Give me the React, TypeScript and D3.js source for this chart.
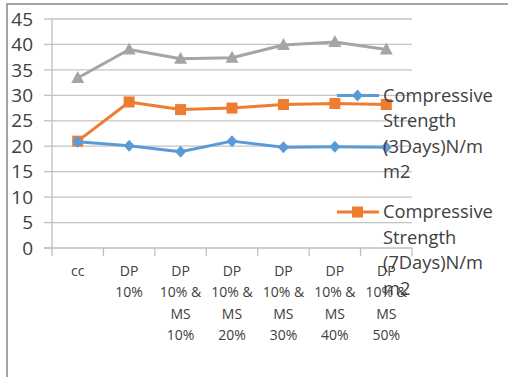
import React from "react";
import * as d3 from "d3";

const categories = ["cc", "DP 10%", "DP 10% & MS 10%", "DP 10% & MS 20%", "DP 10% & MS 30%", "DP 10% & MS 40%", "DP 10% & MS 50%"];
const strength3Days = [20.9, 20.1, 18.9, 21.0, 19.8, 19.9, 19.8];
const strength7Days = [21.0, 28.7, 27.2, 27.5, 28.2, 28.4, 28.2];
const strength28Days = [33.4, 39.0, 37.2, 37.4, 39.9, 40.5, 39.0];
const yTicks = [0, 5, 10, 15, 20, 25, 30, 35, 40, 45];
const legend1Lines = ["Compressive", "Strength", "(3Days)N/m", "m2"];
const legend2Lines = ["Compressive", "Strength", "(7Days)N/m", "m2"];

const FONT = "'Open Sans', sans-serif";
const BLUE = "#5b9bd5";
const ORANGE = "#ed7d31";
const GRAY = "#a5a5a5";

function splitLabel(s: string): string[] {
  const words = s.split(" ");
  const out: string[] = [];
  words.forEach((w) => {
    if (w === "&" && out.length) out[out.length - 1] += " &";
    else out.push(w);
  });
  return out;
}

export default function App() {
  const W = 508, H = 377;
  const x = d3.scaleBand<string>().domain(categories).range([52, 412]).padding(0);
  const y = d3.scaleLinear().domain([0, 45]).range([248, 19]);
  const cx = (c: string) => (x(c) as number) + x.bandwidth() / 2;
  const line = d3.line<number>().x((_, i) => cx(categories[i])).y((v) => y(v));

  const diamond = (px: number, py: number, key: any, color: string) => (
    <path key={key} d={`M${px},${py - 6}L${px + 5.5},${py}L${px},${py + 6}L${px - 5.5},${py}Z`} fill={color} />
  );
  const square = (px: number, py: number, key: any, color: string) => (
    <rect key={key} x={px - 5.5} y={py - 5.5} width={11} height={11} fill={color} />
  );
  const triangle = (px: number, py: number, key: any, color: string) => (
    <path key={key} d={`M${px},${py - 7}L${px + 6.5},${py + 5}L${px - 6.5},${py + 5}Z`} fill={color} />
  );

  const boundaries = d3.range(categories.length + 1).map((i) => 52 + i * x.bandwidth());

  return (
    <svg width={W} height={H} style={{ position: "absolute", left: 0, top: 0, background: "#fff" }}>
      <rect x={0} y={0} width={W} height={H} fill="#fff" />
      <rect x={7} y={4} width={W + 10} height={H + 10} fill="none" stroke="#888" strokeWidth={1.5} />
      {yTicks.filter((t) => t > 0).map((t) => (
        <line key={"g" + t} x1={52} x2={412} y1={y(t)} y2={y(t)} stroke="#c4c4c4" strokeWidth={1.3} />
      ))}
      {yTicks.map((t) => (
        <line key={"yt" + t} x1={44} x2={52} y1={y(t)} y2={y(t)} stroke="#bfbfbf" strokeWidth={1.3} />
      ))}
      <line x1={52} x2={52} y1={y(45)} y2={y(0)} stroke="#bfbfbf" strokeWidth={1.3} />
      <line x1={44} x2={412} y1={y(0)} y2={y(0)} stroke="#bfbfbf" strokeWidth={1.3} />
      {boundaries.map((b, i) => (
        <line key={"xt" + i} x1={b} x2={b} y1={y(0)} y2={y(0) + 8} stroke="#bfbfbf" strokeWidth={1.3} />
      ))}
      {yTicks.map((t) => (
        <text key={"yl" + t} x={33} y={y(t)} dy="0.35em" textAnchor="end" fontFamily={FONT} fontSize={19} fill="#404040">
          {t}
        </text>
      ))}
      {categories.map((c) => (
        <text key={"xl" + c} textAnchor="middle" fontFamily={FONT} fontSize={14} fill="#404040">
          {splitLabel(c).map((l, j) => (
            <tspan key={j} x={cx(c)} y={271 + j * 21.3} dy="0.35em">
              {l}
            </tspan>
          ))}
        </text>
      ))}
      <path d={line(strength28Days) as string} fill="none" stroke={GRAY} strokeWidth={3} strokeLinejoin="round" />
      {strength28Days.map((v, i) => triangle(cx(categories[i]), y(v), "t" + i, GRAY))}
      <path d={line(strength7Days) as string} fill="none" stroke={ORANGE} strokeWidth={3} strokeLinejoin="round" />
      {strength7Days.map((v, i) => square(cx(categories[i]), y(v), "s" + i, ORANGE))}
      <path d={line(strength3Days) as string} fill="none" stroke={BLUE} strokeWidth={3} strokeLinejoin="round" />
      {strength3Days.map((v, i) => diamond(cx(categories[i]), y(v), "d" + i, BLUE))}
      <line x1={337} x2={379} y1={95.5} y2={95.5} stroke={BLUE} strokeWidth={3} />
      {diamond(357.5, 95.5, "ld", BLUE)}
      <text fontFamily={FONT} fontSize={18.3} fill="#404040">
        {legend1Lines.map((l, j) => (
          <tspan key={j} x={383} y={95.5 + j * 25.5} dy="0.35em">
            {l}
          </tspan>
        ))}
      </text>
      <line x1={337} x2={379} y1={212} y2={212} stroke={ORANGE} strokeWidth={3} />
      {square(357.5, 212, "ls", ORANGE)}
      <text fontFamily={FONT} fontSize={18.3} fill="#404040">
        {legend2Lines.map((l, j) => (
          <tspan key={j} x={383} y={212 + j * 25.5} dy="0.35em">
            {l}
          </tspan>
        ))}
      </text>
    </svg>
  );
}
